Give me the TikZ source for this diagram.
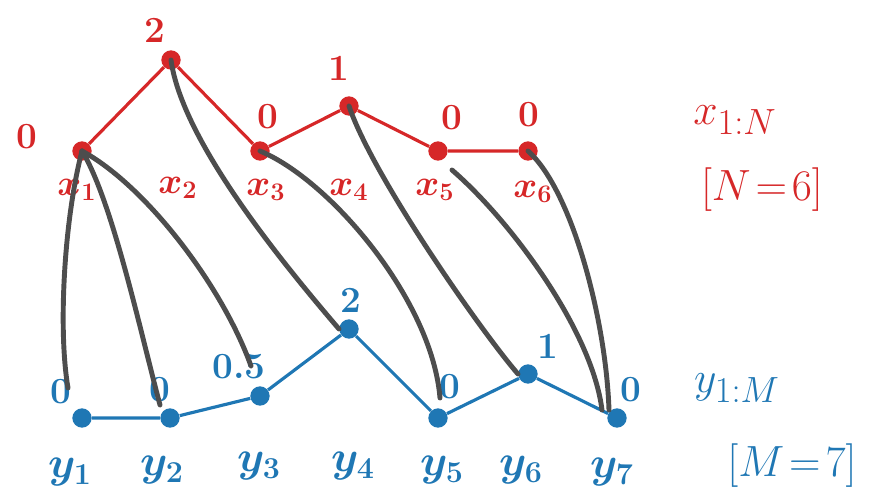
\documentclass[tikz,border=0pt]{standalone}
\usepackage{amsmath}
\definecolor{xred}{HTML}{D62728}
\definecolor{yblue}{HTML}{1F77B4}
\definecolor{warpgray}{HTML}{4D4D4D}
\tikzset{
  xdot/.style={circle, fill=xred, inner sep=0pt, minimum size=11pt},
  ydot/.style={circle, fill=yblue, inner sep=0pt, minimum size=11pt},
  xline/.style={xred, line width=1.8pt},
  yline/.style={yblue, line width=1.8pt},
  warp/.style={warpgray, line width=2.8pt, line cap=round},
  xval/.style={text=xred, font=\fontsize{21}{24}\selectfont\bfseries},
  yval/.style={text=yblue, font=\fontsize{21}{24}\selectfont\bfseries},
  xname/.style={text=xred, font=\fontsize{22}{25}\selectfont\boldmath},
  yname/.style={text=yblue, font=\fontsize{24}{27}\selectfont\boldmath},
  seqname/.style={font=\fontsize{30}{34}\selectfont}
}
\begin{document}
\begin{tikzpicture}[x=0.02cm, y=-0.02cm]
  \useasboundingbox (0,0) rectangle (873,501);

  % Sequence x (top)
  \node[xdot] (x1) at (82,151) {};
  \node[xdot] (x2) at (171,60) {};
  \node[xdot] (x3) at (260,151) {};
  \node[xdot] (x4) at (349,106) {};
  \node[xdot] (x5) at (438,151) {};
  \node[xdot] (x6) at (528,151) {};
  \draw[xline] (x1) -- (x2) -- (x3) -- (x4) -- (x5) -- (x6);

  \node[xval] (vx1) at (27,137) {0};
  \node[xval] (vx2) at (155,30) {2};
  \node[xval] (vx3) at (268,117) {0};
  \node[xval] (vx4) at (339,68) {1};
  \node[xval] (vx5) at (452,118) {0};
  \node[xval] (vx6) at (529,115) {0};

  \node[xname] (nx1) at (77,190) {$x_1$};
  \node[xname] (nx2) at (178,188) {$x_2$};
  \node[xname] (nx3) at (266,190) {$x_3$};
  \node[xname] (nx4) at (349,190) {$x_4$};
  \node[xname] (nx5) at (435,190) {$x_5$};
  \node[xname] (nx6) at (533,192) {$x_6$};

  % Sequence y (bottom)
  \node[ydot] (y1) at (82,418) {};
  \node[ydot] (y2) at (170,418) {};
  \node[ydot] (y3) at (260,396) {};
  \node[ydot] (y4) at (349,329) {};
  \node[ydot] (y5) at (438,418) {};
  \node[ydot] (y6) at (528,374) {};
  \node[ydot] (y7) at (617,418) {};
  \draw[yline] (y1) -- (y2) -- (y3) -- (y4) -- (y5) -- (y6) -- (y7);

  \node[yval] (vy1) at (61,392) {0};
  \node[yval] (vy2) at (160,390) {0};
  \node[yval] (vy3) at (239,367) {0.5};
  \node[yval] (vy4) at (351,300) {2};
  \node[yval] (vy5) at (450,387) {0};
  \node[yval] (vy6) at (548,346) {1};
  \node[yval] (vy7) at (631,390) {0};

  \node[yname] (ny1) at (70,472) {$y_1$};
  \node[yname] (ny2) at (162,470) {$y_2$};
  \node[yname] (ny3) at (259,466) {$y_3$};
  \node[yname] (ny4) at (353,466) {$y_4$};
  \node[yname] (ny5) at (442,470) {$y_5$};
  \node[yname] (ny6) at (521,470) {$y_6$};
  \node[yname] (ny7) at (612,472) {$y_7$};

  % Lengths
  \node[seqname, text=xred] (xseq) at (735,120) {$x_{1:N}$};
  \node[seqname, text=xred] (xlen) at (762,190) {$[N\!=\!6]$};
  \node[seqname, text=yblue] (yseq) at (737,388) {$y_{1:M}$};
  \node[seqname, text=yblue] (ylen) at (792,466) {$[M\!=\!7]$};

  % Warping path
  \coordinate (e1) at (68,388);
  \coordinate (e2) at (160,405);
  \coordinate (e3) at (251,366);
  \coordinate (e5) at (440,398);
  \coordinate (s7) at (452,170);
  \coordinate (e7) at (602,410);
  \coordinate (e8) at (609,410);
  \draw[warp] (x1.center) .. controls (64,220) and (58,330) .. (e1);
  \draw[warp] (x1.center) .. controls (112,200) and (140,330) .. (e2);
  \draw[warp] (x1.center) .. controls (145,185) and (222,285) .. (e3);
  \draw[warp] (x2.center) .. controls (182,140) and (280,260) .. (y4.west);
  \draw[warp] (x3.center) .. controls (330,180) and (432,300) .. (e5);
  \draw[warp] (x4.center) .. controls (372,175) and (480,330) .. (y6.west);
  \draw[warp] (s7) .. controls (510,220) and (592,330) .. (e7);
  \draw[warp] (x6.center) .. controls (572,190) and (606,320) .. (e8);
\end{tikzpicture}
\end{document}
